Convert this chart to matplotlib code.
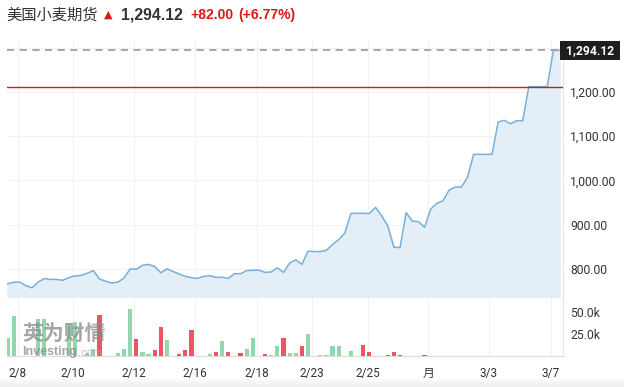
import matplotlib
matplotlib.use("Agg")
import matplotlib.pyplot as plt
import numpy as np

#-------------------- DATA --------------------#
prices = [766, 769.5, 770, 762, 757, 770, 778, 776, 776, 774,
          780, 784, 785, 790, 796, 777, 772, 768, 770, 779,
          800, 799, 808, 810, 805, 791, 800, 794, 788, 783,
          780, 778.5, 783, 784.5, 780.5, 781, 778.5, 789, 789, 796,
          796.6, 797, 792, 793, 802, 792, 813, 820.5, 810, 840,
          839, 839, 842, 855, 866, 881, 925.6, 925.6, 925.6, 925,
          939, 920, 897, 849, 848, 927, 908, 906.6, 894, 935,
          948, 954, 978, 985, 985, 1007, 1059, 1059, 1059, 1059,
          1132, 1136, 1128, 1135, 1135, 1212.12, 1212.12, 1212.12, 1212.12, 1294.12,
          1294.12]

# volume (thousands) and colour flag per bar: 'g' up, 'r' down
volumes = {0: (21, 'g'), 1: (45, 'g'), 5: (42, 'g'), 6: (42, 'g'),
           10: (36, 'g'), 11: (39, 'g'), 13: (3, 'g'), 14: (8, 'g'),
           15: (47, 'r'), 18: (3, 'g'), 19: (8, 'g'), 20: (54, 'g'),
           21: (19, 'r'), 22: (4, 'g'), 23: (2, 'g'), 24: (6.5, 'r'),
           25: (33, 'r'), 26: (18, 'g'), 28: (2, 'r'), 29: (6.5, 'r'),
           30: (30, 'r'), 33: (2, 'g'), 34: (4, 'r'), 35: (17, 'g'),
           36: (4, 'r'), 38: (3, 'r'), 39: (7.6, 'g'), 40: (21, 'g'),
           42: (2, 'r'), 43: (1, 'g'), 44: (11, 'g'), 45: (21, 'r'),
           46: (3, 'g'), 47: (3, 'g'), 48: (11, 'r'), 49: (24.6, 'g'),
           51: (1, 'g'), 52: (1, 'g'), 53: (11, 'g'), 54: (11, 'g'),
           56: (5.5, 'g'), 58: (12, 'r'), 59: (4, 'r'), 62: (1, 'r'),
           63: (4, 'r'), 64: (1, 'r'), 68: (1, 'r')}

tick_pos = [1.71, 10.68, 20.63, 30.57, 40.68, 49.65, 58.78, 68.56, 78.51, 88.62]
tick_labels = ['2/8', '2/10', '2/12', '2/16', '2/18', '2/23', '2/25', '月', '3/3', '3/7']

last_price = 1294.12
prev_close = 1212.12
change = '+82.00'
change_pct = '(+6.77%)'
title = '美国小麦期货'

#-------------------- FIGURE --------------------#
W, H = 624, 387
fig = plt.figure(figsize=(W / 100, H / 100), dpi=100)

def px(x, y):
    return x / W, 1 - y / H

# soft grey band along the bottom edge
bg = fig.add_axes([0, 0, 1, 10 / H], zorder=-1)
bg.imshow(np.linspace(1.0, 0.93, 20).reshape(-1, 1), cmap='gray', vmin=0, vmax=1,
          aspect='auto', extent=(0, 1, 0, 1))
bg.axis('off')

x = np.arange(len(prices))
xlim = (-0.08, 90.57)

ax = fig.add_axes([7 / W, 1 - 298 / H, 556 / W, 258 / H])
ax.plot(x, prices, color='#78b0dc', lw=1.1, zorder=3)
ax.fill_between(x, prices, 700, color='#e4eef6', zorder=2)
ax.axhline(last_price, color='#a0a0a0', lw=1.3, ls=(0, (4, 3)), zorder=4)
ax.axhline(prev_close, color='#d81818', lw=1.0, zorder=4)
ax.set_xlim(*xlim)
ax.set_ylim(734, 1317.6)
ax.set_xticks(tick_pos)
ax.set_xticklabels([])
ax.set_yticks([800, 900, 1000, 1100, 1200, 1300])
ax.set_yticklabels(['800.00', '900.00', '1,000.00', '1,100.00', '1,200.00', ''])
ax.yaxis.tick_right()
ax.tick_params(length=0, labelsize=8.7, labelcolor='#333333', pad=5)
for lab in ax.get_yticklabels():
    lab.set_family('Roboto')
ax.grid(True, color='#f2f2f2', lw=0.8, zorder=0)
for s in ['top', 'left']:
    ax.spines[s].set_visible(False)
ax.spines['bottom'].set_color('#cccccc')
ax.spines['right'].set_color('#e6e6e6')

# last price tag
ax.text(1.0, last_price, ' 1,294.12 ', transform=ax.get_yaxis_transform(),
        ha='left', va='center', color='white', fontsize=8.7, fontweight='bold',
        family='Roboto', zorder=6,
        bbox=dict(boxstyle='square,pad=0.25', fc='#1e1e1e', ec='none'))

#-------------------- VOLUME --------------------#
axv = fig.add_axes([7 / W, 1 - 356 / H, 556 / W, 58 / H])
vx = [k for k in volumes]
vh = [volumes[k][0] * 1000 for k in volumes]
vc = ['#92d7ad' if volumes[k][1] == 'g' else '#ef5464' for k in volumes]
axv.bar(vx, vh, width=0.68, color=vc, zorder=3)
axv.set_xlim(*xlim)
axv.set_ylim(0, 66000)
axv.set_xticks(tick_pos)
axv.set_xticklabels(tick_labels, family=['Roboto', 'Noto Sans CJK SC'])
axv.set_yticks([25000, 50000])
axv.set_yticklabels(['25.0k', '50.0k'], family='Roboto')
axv.yaxis.tick_right()
axv.tick_params(length=0, labelsize=8.7, labelcolor='#333333')
axv.tick_params(axis='x', pad=8, labelsize=8.5)
axv.tick_params(axis='y', pad=5)
axv.grid(True, axis='x', color='#f2f2f2', lw=0.8, zorder=0)
for s in ['top', 'left']:
    axv.spines[s].set_visible(False)
axv.spines['bottom'].set_color('#dddddd')
axv.spines['right'].set_color('#e6e6e6')

# watermark
fig.text(*px(22, 333), '英为财情', family='Noto Sans CJK SC', fontsize=15,
         fontweight='bold', color='#8a8a8a', alpha=0.75, va='center', zorder=5)
fig.text(*px(22, 352), 'Investing', family='Liberation Sans', fontsize=9,
         fontweight='bold', color='#8a8a8a', alpha=0.75, va='center', zorder=5)
fig.text(*px(78, 353), '.com', family='Liberation Sans', fontsize=8,
         color='#aaaaaa', alpha=0.75, va='center', zorder=5)

#-------------------- HEADER --------------------#
fig.text(*px(6, 15), title, family='Noto Sans CJK SC', fontsize=11,
         color='#333333', va='center')
fig.text(*px(104, 15), '▲', family='DejaVu Sans', fontsize=8,
         color='#e01515', va='center')
fig.text(*px(121, 15), '1,294.12', family='Liberation Sans', fontsize=11.3,
         fontweight='bold', color='#333333', va='center')
fig.text(*px(190, 15), change, family='Liberation Sans', fontsize=10,
         fontweight='bold', color='#e01515', va='center')
fig.text(*px(238, 15), change_pct, family='Liberation Sans', fontsize=10,
         fontweight='bold', color='#e01515', va='center')

plt.savefig('out.png', dpi=100)
